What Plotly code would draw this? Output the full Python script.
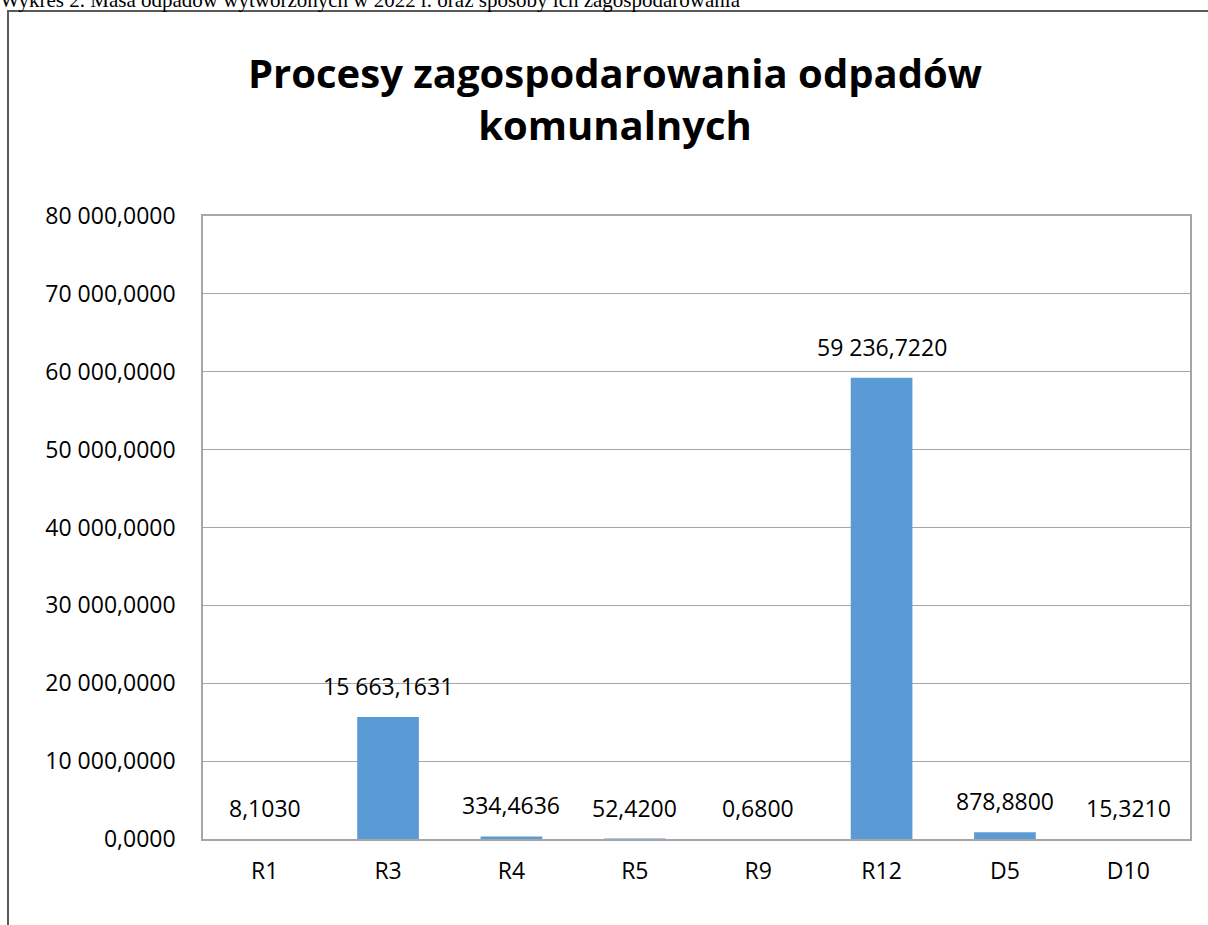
import plotly.graph_objects as go

categories = ["R1", "R3", "R4", "R5", "R9", "R12", "D5", "D10"]
values = [8.1030, 15663.1631, 334.4636, 52.4200, 0.6800, 59236.7220, 878.8800, 15.3210]
y_ticks = [0, 10000, 20000, 30000, 40000, 50000, 60000, 70000, 80000]

title_text = "Procesy zagospodarowania odpadów<br>komunalnych"
caption_text = "Wykres 2. Masa odpadów wytworzonych w 2022 r. oraz sposoby ich zagospodarowania"


def fmt(v):
    return f"{v:,.4f}".replace(",", " ").replace(".", ",")


W, H = 1208, 925
L, R, T, B = 203, 18, 216, 86
pw, ph = W - L - R, H - T - B


def px_x(x):
    return (x - L) / pw


def px_y(y):
    return (H - B - y) / ph


fig = go.Figure()
fig.add_trace(go.Bar(x=categories, y=values, marker_color="rgba(91,155,213,0.999)",
                     marker_line_width=0, hoverinfo="x+y"))

for c, v in zip(categories, values):
    fig.add_annotation(x=c, y=v, xref="x", yref="y", text=fmt(v), showarrow=False,
                       yanchor="bottom", yshift=13,
                       font=dict(family="Open Sans", size=23, color="#000000"))

fig.add_annotation(x=px_x(-2), y=px_y(14), xref="paper", yref="paper",
                   text=caption_text, showarrow=False, xanchor="left", yanchor="bottom",
                   font=dict(family="Liberation Serif", size=21, color="#000000"))

fig.add_shape(type="rect", xref="paper", yref="paper",
              x0=px_x(8), x1=px_x(1230), y0=px_y(11), y1=px_y(960),
              line=dict(color="#5A5A5A", width=2), fillcolor="rgba(0,0,0,0)")

fig.update_layout(
    width=W, height=H,
    margin=dict(l=L, r=R, t=T, b=B, autoexpand=False),
    paper_bgcolor="white", plot_bgcolor="white",
    separators=", ",
    bargap=0.5,
    showlegend=False,
    title=dict(text=title_text, x=615 / W, xanchor="center",
               y=1 - 88 / H, yanchor="middle",
               font=dict(family="Open Sans", size=40, color="#000000", weight="bold")),
    xaxis=dict(showline=True, linecolor="#A6A6A6", linewidth=1.5, mirror=True,
               showgrid=False, ticks="", ticklabelstandoff=11,
               tickfont=dict(family="Open Sans", size=23, color="#000000")),
    yaxis=dict(range=[0, 80000], tickvals=y_ticks, tickformat=",.4f",
               showline=True, linecolor="#A6A6A6", linewidth=1.5, mirror=True,
               showgrid=True, gridcolor="#A6A6A6", gridwidth=1.2,
               zeroline=False, ticks="", ticklabelstandoff=21,
               tickfont=dict(family="Open Sans", size=23, color="#000000")),
)

fig.write_html("out.html", config={"displayModeBar": False},
               post_script="document.body.style.margin='0px';")
